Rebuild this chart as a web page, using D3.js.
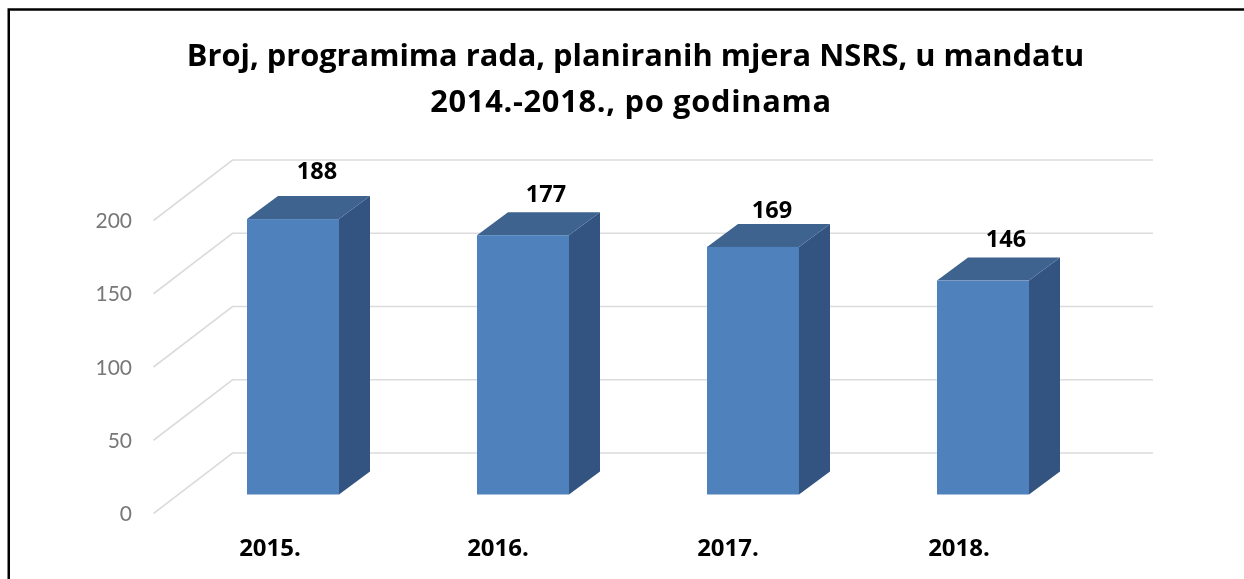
<!DOCTYPE html>
<html><head><meta charset="utf-8">
<script src="https://cdnjs.cloudflare.com/ajax/libs/d3/7.8.5/d3.min.js"></script>
<style>html,body{margin:0;padding:0;background:#fff}svg{display:block}text{font-family:"Open Sans",Lato,sans-serif;filter:blur(0.3px)}.soft{filter:blur(0.4px)}</style>
</head><body><div id="chart"></div>
<script>
const categories = ["2015.","2016.","2017.","2018."];
const values = [188,177,169,146];
const yTicks = [0,50,100,150,200];
const titleLines = ["Broj, programima rada, planiranih mjera NSRS, u mandatu","2014.-2018., po godinama"];
const labelNudge = [[24,-48],[23,-41],[19,-37],[23,-42]];
const catNudge = [-23,-25,-25,-24];
const titleX = [635.5,631];
const titleSpacing = [0,0.7];

const W=1244,H=579;
const svg=d3.select("#chart").append("svg").attr("width",W).attr("height",H);
svg.append("rect").attr("width",W).attr("height",H).attr("fill","#fff");

const frontBase=494.5, depthX=31, depthY=23;
const wallDX=79, wallDY=60.5, backBase=453;
const h=d3.scaleLinear().domain([0,200]).range([0,293]);
const x=d3.scaleBand().domain(categories).range([247,1029]).paddingInner(0.6);
const barW=x.bandwidth();

svg.append("path").attr("d","M8.75,585V9.5H1250").attr("fill","none").attr("stroke","#000").attr("stroke-width",2.5);

const grid=svg.append("g").attr("class","soft");
yTicks.forEach(t=>{
  const yb=backBase-h(t);
  grid.append("path").attr("d",d3.line()([[153.5,yb+wallDY],[153.5+wallDX,yb],[1153,yb]]))
    .attr("fill","none").attr("stroke","#dcdcdc").attr("stroke-width",1.7);
  svg.append("text").attr("x",132).attr("y",yb+wallDY+7.5).attr("text-anchor","end")
    .attr("font-size",21).attr("fill","#787878").style("font-family","Lato,sans-serif").text(t);
});

const bars=svg.selectAll("g.bar").data(values).join("g").attr("class","bar");
bars.append("path").attr("class","soft").attr("fill","#335480").attr("d",(d,i)=>{
  const l=x(categories[i])+barW,t=frontBase-h(d);
  return d3.line()([[l,frontBase],[l,t],[l+depthX,t-depthY],[l+depthX,frontBase-depthY]])+"Z";});
bars.append("path").attr("class","soft").attr("fill","#3e638f").attr("d",(d,i)=>{
  const l=x(categories[i]),t=frontBase-h(d);
  return d3.line()([[l,t],[l+depthX,t-depthY],[l+barW+depthX,t-depthY],[l+barW,t]])+"Z";});
bars.append("rect").attr("class","soft").attr("fill","#4f81bd")
  .attr("x",(d,i)=>x(categories[i])).attr("y",d=>frontBase-h(d)).attr("width",barW).attr("height",d=>h(d));
bars.append("text").attr("text-anchor","middle").attr("font-size",23.5).attr("font-weight",700).attr("fill","#000")
  .attr("x",(d,i)=>x(categories[i])+barW/2+labelNudge[i][0])
  .attr("y",(d,i)=>frontBase-h(d)+labelNudge[i][1]+8).text(d=>d);

svg.selectAll("text.cat").data(categories).join("text").attr("class","cat")
  .attr("text-anchor","middle").attr("font-size",24).attr("font-weight",700).attr("fill","#000")
  .attr("x",(c,i)=>x(c)+barW/2+catNudge[i]).attr("y",556).text(c=>c);

svg.selectAll("text.title").data(titleLines).join("text").attr("class","title")
  .attr("text-anchor","middle").attr("font-size",30.8).attr("font-weight",700).attr("fill","#000")
  .attr("letter-spacing",(d,i)=>titleSpacing[i])
  .attr("x",(d,i)=>titleX[i]).attr("y",(d,i)=>66+i*46).text(d=>d);
</script></body></html>
